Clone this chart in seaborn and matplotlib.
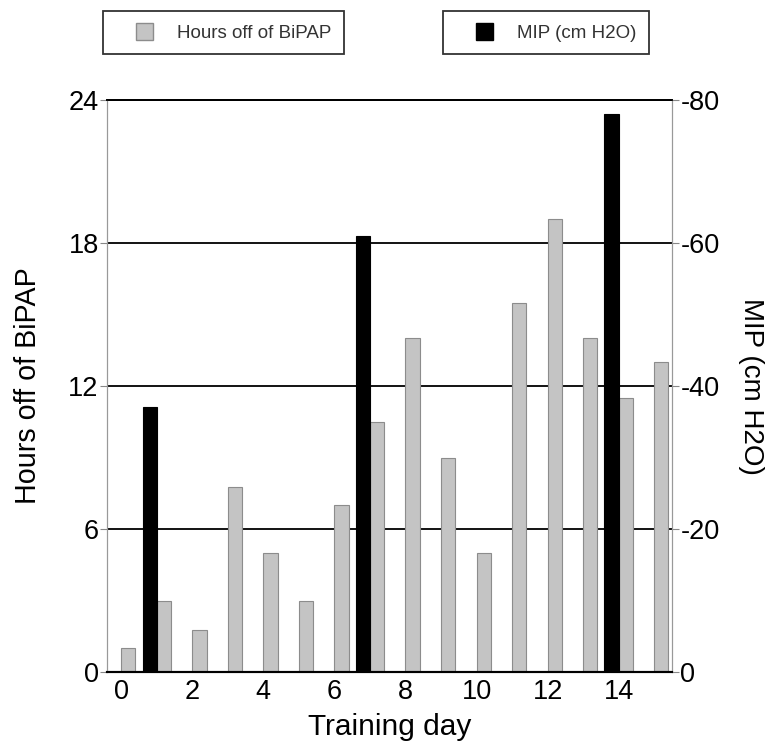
import matplotlib
matplotlib.use("Agg")
import matplotlib.pyplot as plt
from matplotlib.legend_handler import HandlerPatch
from matplotlib.patches import Patch, Rectangle
import numpy as np
import pandas as pd
import seaborn as sns

# values
DAYS = list(range(16))
HOURS_OFF = [1.0, 3.0, 1.75, 7.75, 5.0, 3.0, 7.0, 10.5, 14.0, 9.0, 5.0, 15.5, 19.0, 14.0, 11.5, 13.0]
MIP_DAYS = [1, 7, 14]
MIP_VALUES = [-37, -61, -78]

HOURS_LABEL = "Hours off of BiPAP"
MIP_LABEL = "MIP (cm H2O)"
HOURS_TICKS = [0, 6, 12, 18, 24]
MIP_TICKS = [0, -20, -40, -60, -80]
DAY_TICKS = [0, 2, 4, 6, 8, 10, 12, 14]

GRAY = "#c4c4c4"
BLACK = "#000000"

sns.set_style("white")
plt.rcParams["font.family"] = ["Liberation Sans", "DejaVu Sans"]
plt.rcParams["text.color"] = "black"
plt.rcParams["axes.labelcolor"] = "black"

df_hours = pd.DataFrame({"day": DAYS, "value": HOURS_OFF, "series": HOURS_LABEL})
df_mip = pd.DataFrame({"day": MIP_DAYS, "value": MIP_VALUES, "series": MIP_LABEL})
hue_order = [MIP_LABEL, HOURS_LABEL]
palette = {MIP_LABEL: BLACK, HOURS_LABEL: GRAY}

fig = plt.figure(figsize=(7.71, 7.47), dpi=100)
ax1 = fig.add_axes([0.1388, 0.1004, 0.7328, 0.7657])
ax1.set_axisbelow(True)

sns.barplot(data=df_hours, x="day", y="value", hue="series", hue_order=hue_order,
            order=DAYS, palette=palette, dodge=True, width=0.8, legend=False,
            edgecolor="#8c8c8c", linewidth=0.8, ax=ax1)

ax2 = ax1.twinx()
sns.barplot(data=df_mip, x="day", y="value", hue="series", hue_order=hue_order,
            order=DAYS, palette=palette, dodge=True, width=0.8, legend=False,
            edgecolor=BLACK, linewidth=0.8, ax=ax2)

# left axis: hours
ax1.set_ylim(0, 24)
ax1.set_yticks(HOURS_TICKS)
ax1.set_yticklabels([str(t) for t in HOURS_TICKS])
for t in HOURS_TICKS[1:]:
    ax1.axhline(t, color="black", lw=1.3, zorder=0)

# right axis: MIP, bars grow upward toward more negative values
ax2.set_ylim(0, -80)
ax2.set_yticks(MIP_TICKS)
ax2.set_yticklabels([str(t) for t in MIP_TICKS])

ax1.set_xlim(-0.4, 15.5)
ax1.set_xticks(DAY_TICKS)
ax1.set_xticklabels([str(d) for d in DAY_TICKS])
ax1.set_xticks(np.arange(0.5, 15.5, 1), minor=True)
ax1.tick_params(axis="x", which="major", length=0, labelsize=19.5, labelcolor="black", pad=5)
ax1.tick_params(axis="x", which="minor", length=4, color="#888888", width=0.8)
ax1.tick_params(axis="y", length=5, color="#888888", labelsize=19.5, labelcolor="black", pad=1)
ax2.tick_params(axis="y", length=5, color="#888888", labelsize=19.5, labelcolor="black", pad=1)

ax1.set_xlabel("Training day", fontsize=21.5, labelpad=6)
ax1.set_ylabel(HOURS_LABEL, fontsize=20.6, labelpad=19)
ax2.set_xlabel("")
ax2.set_ylabel(MIP_LABEL, fontsize=20, rotation=270, labelpad=32)

for ax in (ax1, ax2):
    ax.spines["left"].set_color("#999999")
    ax.spines["left"].set_linewidth(0.8)
    ax.spines["right"].set_color("#999999")
    ax.spines["right"].set_linewidth(0.8)
    ax.spines["top"].set_color("black")
    ax.spines["top"].set_linewidth(1.3)
    ax.spines["bottom"].set_color("black")
    ax.spines["bottom"].set_linewidth(1.5)


def square_at_right(legend, orig_handle, xdescent, ydescent, width, height, fontsize):
    # small square pushed to the right end of a wide handle slot
    side = 0.9 * fontsize
    return Rectangle((-xdescent + width - side, -ydescent + (height - side) / 2), side, side)


# two separate legend boxes across the top
leg_kw = dict(loc="upper left", frameon=True, fancybox=False, fontsize=13.5,
              handlelength=2.0, handleheight=0.9, handletextpad=1.3,
              borderpad=0.66, borderaxespad=0, labelcolor="#333333",
              handler_map={Patch: HandlerPatch(patch_func=square_at_right)})
leg1 = fig.legend(handles=[Patch(facecolor=GRAY, edgecolor="#8c8c8c", label=HOURS_LABEL)],
                  bbox_to_anchor=(103 / 771, 1 - 11 / 747), **leg_kw)
leg2 = fig.legend(handles=[Patch(facecolor=BLACK, edgecolor=BLACK, label=MIP_LABEL)],
                  bbox_to_anchor=(443 / 771, 1 - 11 / 747), **leg_kw)
for leg in (leg1, leg2):
    leg.get_frame().set_edgecolor("black")
    leg.get_frame().set_linewidth(1.3)

fig.savefig("out.png", dpi=100)
